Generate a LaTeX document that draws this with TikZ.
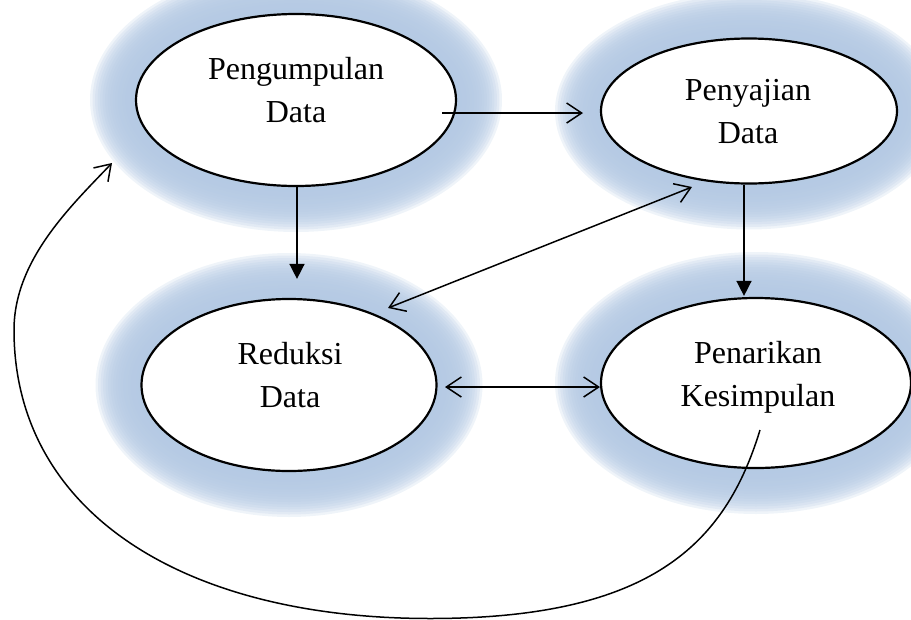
\documentclass[tikz,border=0pt]{standalone}
\usepackage{fontspec}
\setmainfont{Liberation Serif}
\usetikzlibrary{arrows.meta,calc,shapes.geometric}
\definecolor{glowc}{RGB}{180,201,227}
\newcommand\glowring[4]{%
  \foreach \k in {0,...,18}{%
    \fill[glowc, fill opacity=0.21] (#1,#2) ellipse [x radius={#3+46-\k*2.5}, y radius={#4+46-\k*2.5}];
  }}
\begin{document}
\begin{tikzpicture}[x=1pt,y=-1pt,
  ell/.style={draw, line width=2.2pt, ellipse, fill=white, inner sep=0pt},
  lbl/.style={align=center, font=\fontsize{32}{43}\selectfont, anchor=base, inner sep=0pt},
  conn/.style={line width=1.5pt},
  openhead/.style={-{Straight Barb[length=15pt,width=20pt]}},
  twohead/.style={{Straight Barb[length=15pt,width=20pt]}-{Straight Barb[length=15pt,width=20pt]}},
  fillhead/.style={-{Triangle[length=15pt,width=15pt]}}
]
\useasboundingbox (0,0) rectangle (911,619);
\begin{scope}
  \clip (0,0) rectangle (911,619);
  \glowring{296}{100}{160}{86}
  \glowring{749}{111}{148}{72.5}
  \glowring{289}{385}{147.5}{86}
  \glowring{756}{383}{155}{85}
\end{scope}

\node[ell, minimum width=320pt, minimum height=172pt] (pd) at (296,100) {};
\node[ell, minimum width=296pt, minimum height=145pt] (pj) at (749,111) {};
\node[ell, minimum width=295pt, minimum height=172pt] (rd) at (289,385) {};
\node[ell, minimum width=310pt, minimum height=170pt] (pk) at (756,383) {};

\node[lbl] (tpd) at (296,122) {Pengumpulan\\Data};
\node[lbl] (tpj) at (748,143) {Penyajian\\Data};
\node[lbl] (trd) at (290,407) {Reduksi\\Data};
\node[lbl] (tpk) at (758,406) {Penarikan\\Kesimpulan};

\coordinate (a1s) at ($(pd.center)+(146,13)$);
\coordinate (a1e) at ($(pj.center)+(-166,2)$);
\coordinate (a2s) at ($(pd.south)+(1,0)$);
\coordinate (a2e) at ($(rd.north)+(8,-19)$);
\coordinate (a3s) at ($(pj.south)+(-5,0)$);
\coordinate (a3e) at ($(pk.north)+(-12,-1)$);
\coordinate (a4s) at ($(rd.center)+(99,-77)$);
\coordinate (a4e) at ($(pj.center)+(-57,76)$);
\coordinate (a5s) at ($(rd.center)+(156,2)$);
\coordinate (a5e) at ($(pk.center)+(-156,4)$);

\draw[conn, openhead] (a1s) -- (a1e);
\draw[conn, fillhead] (a2s) -- (a2e);
\draw[conn, fillhead] (a3s) -- (a3e);
\draw[conn, twohead] (a4s) -- (a4e);
\draw[conn, twohead] (a5s) -- (a5e);

\coordinate (cs) at ($(pk.center)+(4,47)$);
\coordinate (cb) at (430,618.5);
\coordinate (cl) at (14,330);
\coordinate (ce) at ($(pd.center)+(-184,63)$);
\draw[conn, openhead] (cs) .. controls (725,545) and (650,618.5) .. (cb)
  .. controls (180,618.5) and (14,510) .. (cl)
  .. controls (14,260) and (71,206) .. (ce);
\end{tikzpicture}
\end{document}
